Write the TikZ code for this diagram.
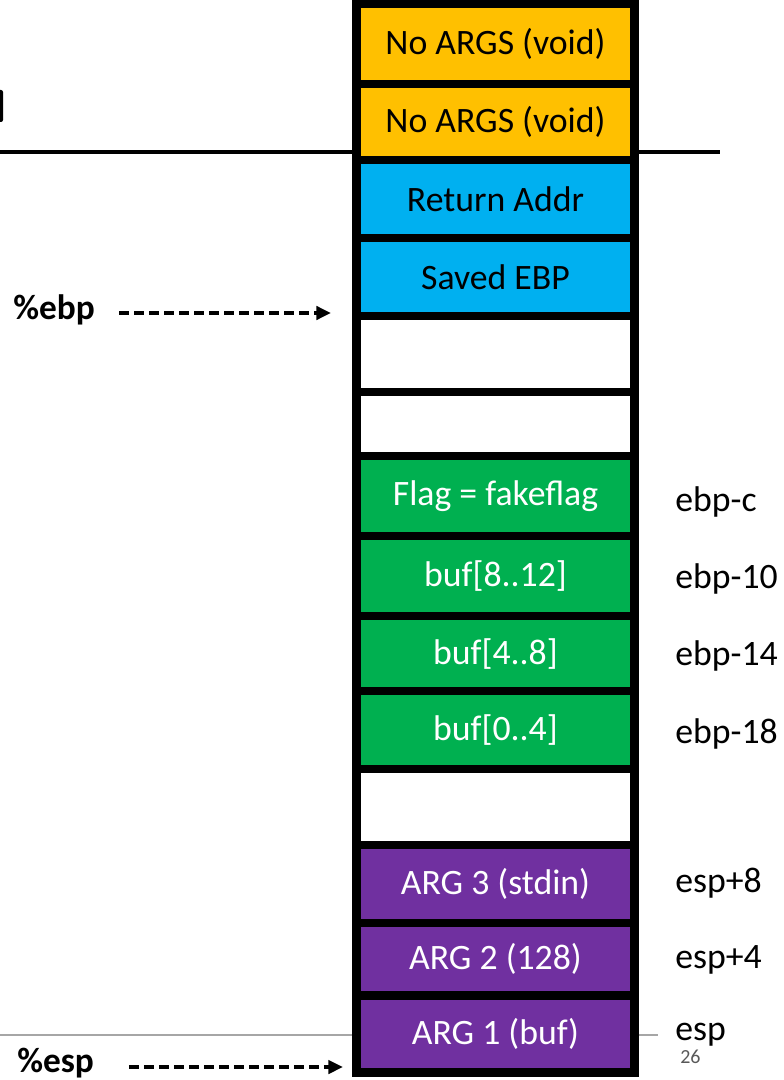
\documentclass[tikz,border=0pt]{standalone}
\usepackage{fontspec}
\setmainfont{Carlito}
\usetikzlibrary{arrows.meta, positioning}
\definecolor{argsorange}{HTML}{FFC000}
\definecolor{frameblue}{HTML}{00B0F0}
\definecolor{localgreen}{HTML}{00B050}
\definecolor{callpurple}{HTML}{7030A0}
\definecolor{rulegray}{HTML}{A6A6A6}
\definecolor{pagegray}{HTML}{595959}

\begin{document}
\begin{tikzpicture}[x=0.75pt, y=-0.75pt,
  slot/.style={draw=black, line width=6.5pt, inner sep=0pt,
    minimum width=208.5pt, font=\fontsize{26.8}{30}\selectfont},
  offset/.style={anchor=base west, inner sep=0pt,
    font=\fontsize{26.8}{30}\selectfont},
  reg/.style={anchor=base west, inner sep=0pt,
    font=\fontsize{26.5}{30}\selectfont\bfseries},
  ptr/.style={line width=2.6pt, dash pattern=on 7.5pt off 3.75pt,
    -{Triangle[length=11pt,width=10pt]}}]
  \useasboundingbox (0,0) rectangle (783,1080);
  % slide rules behind the stack
  \draw[line width=2.5pt] (0,152) -- (720,152);
  \draw[rulegray, line width=1.8pt] (0,1035) -- (658,1035);
  \fill[rounded corners=1.5pt] (-6,90) rectangle (3,122);
  % stack slots, top to bottom
  \foreach \i/\y/\h/\c/\tc/\t in {
      1/44/80/argsorange/black/No ARGS (void),
      2/122/76/argsorange/black/No ARGS (void),
      3/199/78/frameblue/black/Return Addr,
      4/277/78/frameblue/black/Saved EBP,
      5/354/76/white/black/{},
      6/424/64/white/black/{},
      7/496/80/localgreen/white/Flag = fakeflag,
      8/576/80/localgreen/white/buf[8..12],
      9/654/76/localgreen/white/buf[4..8],
      10/730/78/localgreen/white/buf[0..4],
      11/807/76/white/black/{},
      12/884/78/callpurple/white/ARG 3 (stdin),
      13/959/72/callpurple/white/ARG 2 (128),
      14/1034/77/callpurple/white/ARG 1 (buf)}
    \node[slot, fill=\c, text=\tc, minimum height={\h*0.75pt}] (s\i) at (495.5,\y) {\t};
  % offsets on the right
  \foreach \n/\y/\t in {7/511/ebp-c, 8/588/ebp-10, 9/665/ebp-14, 10/743/ebp-18,
      12/892/esp+8, 13/968/esp+4, 14/1040/esp}
    \node[offset] (o\n) at (675,\y) {\t};
  \node[anchor=base west, inner sep=0pt, text=pagegray,
        font=\fontsize{15}{18}\selectfont] (pageno) at (680,1063) {26};
  % registers
  \node[reg] (ebp) at (13,320) {\%ebp};
  \coordinate (ebptip) at (331,313);
  \draw[ptr, shorten <=18pt] (ebp.east |- ebptip) -- (ebptip);
  \node[reg] (esp) at (17,1072) {\%esp};
  \coordinate (esptip) at (343,1067);
  \draw[ptr, shorten <=26pt] (esp.east |- esptip) -- (esptip);
\end{tikzpicture}
\end{document}
